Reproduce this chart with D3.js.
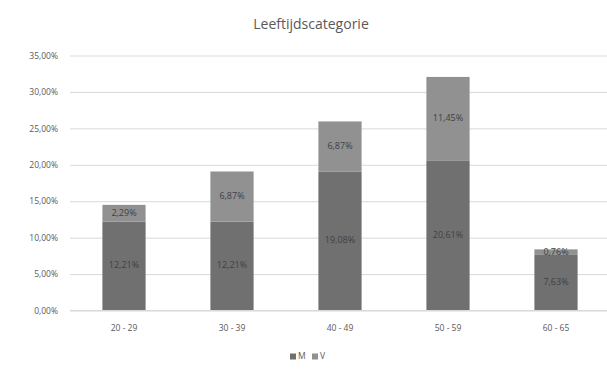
<!DOCTYPE html>
<html>
<head>
<meta charset="utf-8">
<script src="https://cdn.jsdelivr.net/npm/d3@7"></script>
<style>
  body { margin: 0; background: #fff; }
  text { font-family: "Open Sans", "DejaVu Sans", sans-serif; }
</style>
</head>
<body>
<div id="chart"></div>
<script>
const categories = ["20 - 29", "30 - 39", "40 - 49", "50 - 59", "60 - 65"];
const seriesNames = ["M", "V"];
const valuesM = [12.21, 12.21, 19.08, 20.61, 7.63];
const valuesV = [2.29, 6.87, 6.87, 11.45, 0.76];
const yTicks = [0, 5, 10, 15, 20, 25, 30, 35];

const W = 607, H = 370;
const colors = { M: "#707070", V: "#919191" };
const fmt = v => v.toFixed(2).replace(".", ",") + "%";

const svg = d3.select("#chart").append("svg")
  .attr("width", W).attr("height", H);

const x = d3.scaleBand()
  .domain(categories)
  .range([70, 610])
  .paddingInner(0.6)
  .paddingOuter(0.3);

const y = d3.scaleLinear()
  .domain([0, 35])
  .range([310.5, 55.5]);

// titel
svg.append("text")
  .attr("x", 311).attr("y", 29)
  .attr("text-anchor", "middle")
  .style("font-size", "14px")
  .style("fill", "#595959")
  .text("Leeftijdscategorie");

// rasterlijnen + y-as labels
const yAxis = svg.append("g")
  .attr("transform", "translate(70,0)")
  .call(d3.axisLeft(y).tickValues(yTicks).tickSize(-540).tickFormat(fmt).tickPadding(12))
  .call(g => g.select(".domain").remove());
yAxis.selectAll(".tick line").attr("stroke", "#d9d9d9");
yAxis.selectAll(".tick text")
  .style("font-size", "8.5px")
  .style("fill", "#595959")
  .style("font-family", "'Open Sans', sans-serif");

// gestapelde staven
const rows = categories.map((c, i) => ({ cat: c, M: valuesM[i], V: valuesV[i] }));
const stacked = d3.stack().keys(seriesNames)(rows);

const layers = svg.selectAll("g.layer")
  .data(stacked)
  .join("g")
  .attr("class", "layer")
  .attr("fill", d => colors[d.key]);

layers.selectAll("rect")
  .data(d => d)
  .join("rect")
  .attr("x", d => x(d.data.cat))
  .attr("y", d => y(d[1]))
  .attr("width", x.bandwidth())
  .attr("height", d => y(d[0]) - y(d[1]));

// datalabels
layers.selectAll("text")
  .data(d => d.map(p => ({ p, key: d.key })))
  .join("text")
  .attr("x", d => x(d.p.data.cat) + x.bandwidth() / 2)
  .attr("y", d => (y(d.p[0]) + y(d.p[1])) / 2)
  .attr("text-anchor", "middle")
  .attr("dominant-baseline", "middle")
  .style("font-size", "9px")
  .style("fill", "#404040")
  .text(d => fmt(d.p.data[d.key]));

// x-as lijn
svg.append("line")
  .attr("x1", 70).attr("x2", 610)
  .attr("y1", y(0)).attr("y2", y(0))
  .attr("stroke", "#d9d9d9");

const xAxis = svg.append("g")
  .attr("transform", `translate(0,${y(0)})`)
  .call(d3.axisBottom(x).tickSize(0).tickPadding(14))
  .call(g => g.select(".domain").remove());
xAxis.selectAll("text")
  .style("font-size", "8.5px")
  .style("fill", "#595959")
  .style("font-family", "'Open Sans', sans-serif");

// legenda
const legend = svg.append("g").attr("transform", "translate(290,357)");
const items = legend.selectAll("g")
  .data(seriesNames)
  .join("g")
  .attr("transform", (d, i) => `translate(${i * 22},0)`);
items.append("rect")
  .attr("x", 0).attr("y", -3.5)
  .attr("width", 6).attr("height", 6)
  .attr("fill", d => colors[d]);
items.append("text")
  .attr("x", 8).attr("y", 0)
  .attr("dominant-baseline", "middle")
  .style("font-size", "8.5px")
  .style("fill", "#595959")
  .text(d => d);
</script>
</body>
</html>
